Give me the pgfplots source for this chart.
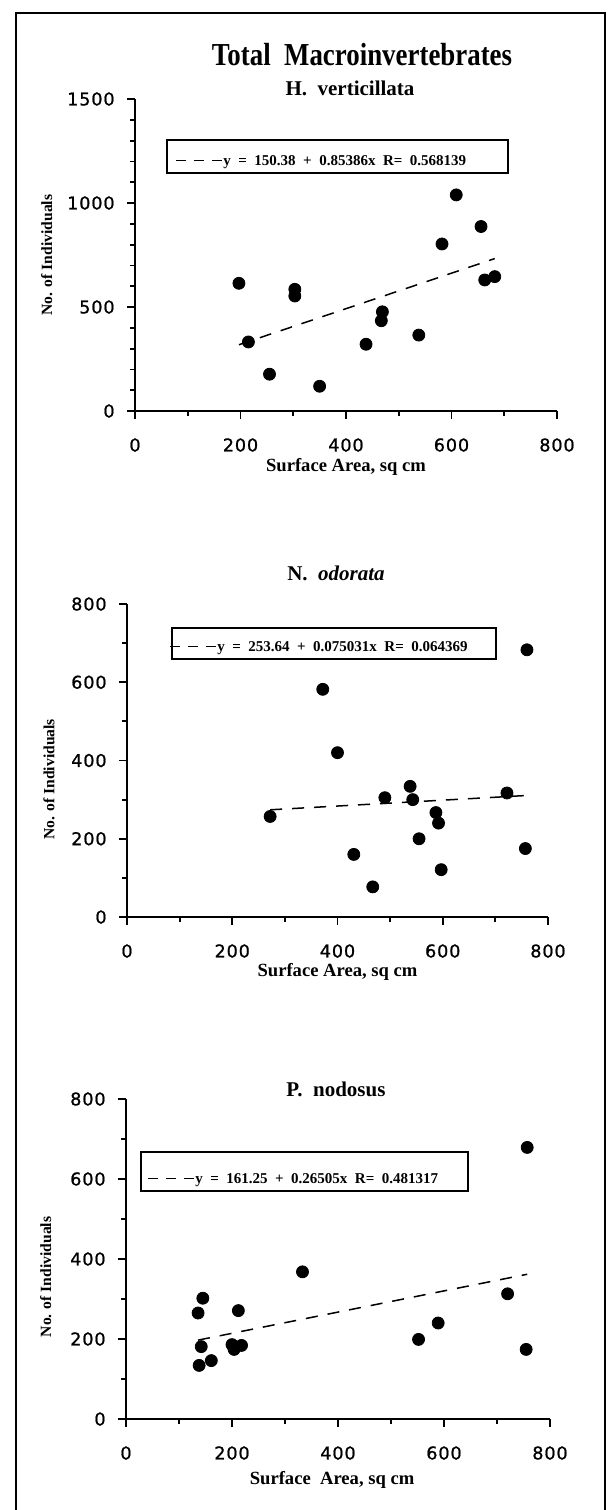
\documentclass[border=0pt]{standalone}
\usepackage{fontspec}
\usepackage{pgfplots}
\pgfplotsset{compat=1.18}
\setmainfont{Liberation Serif}
\newfontfamily\cond{Liberation Serif}[FakeStretch=0.84]
\newfontfamily\tickfont{DejaVu Sans}[LetterSpace=5, FakeBold=1]

% dashed sample drawn in the legend text
\newcommand\dashsample{\rule[2.3pt]{5pt}{0.75pt}\hspace{4pt}\rule[2.3pt]{5pt}{0.75pt}\hspace{4pt}\rule[2.3pt]{5pt}{0.75pt}\hspace{0.8pt}}

\pgfplotsset{
  panel/.style={
    scale only axis,
    anchor=south west,
    axis lines*=left,
    axis line style={line width=1.1pt},
    clip=false,
    xmin=0, xmax=800,
    xtick={0,200,...,800}, minor x tick num=1,
    tick align=outside,
    major tick length=4pt, minor tick length=2.5pt,
    every tick/.style={black, line width=0.9pt},
    ticklabel style={font=\tickfont\fontsize{8.8}{10}\selectfont},
    /pgf/number format/assume math mode=true,
    /pgf/number format/1000 sep={},
    xticklabel style={anchor=center, yshift=-13pt},
    yticklabel style={anchor=east, inner sep=0pt, xshift=-6pt},
    xlabel style={font=\fontsize{9.3}{10}\selectfont\bfseries, anchor=center},
    ylabel style={font=\fontsize{7.8}{9}\selectfont\bfseries, anchor=center},
    legend style={draw=black, line width=0.8pt, fill=white, anchor=north west,
      inner xsep=0pt, inner ysep=0pt, column sep=0pt,
      font=\fontsize{7.5}{8}\selectfont\bfseries},
    legend image code/.code={},
  },
  dots/.style={only marks, mark=*, mark size=3pt, black, forget plot},
  trend/.style={black, line width=0.75pt, dash pattern=on 6pt off 5pt},
}

\begin{document}
\begin{tikzpicture}
\path[use as bounding box] (0,0) rectangle (305.5pt,-755pt);
\draw[line width=1pt] (8pt,-755pt) -- (8pt,-6.5pt) -- (302.5pt,-6.5pt) -- (302.5pt,-755pt);

\node[font=\cond\bfseries\fontsize{16}{18}\selectfont] at (181pt,-27.5pt) {Total\ \ Macroinvertebrates};
\node[font=\bfseries\fontsize{10.5}{12}\selectfont] at (175pt,-44pt) {H.\ \ verticillata};
\node[font=\bfseries\fontsize{10.5}{12}\selectfont] at (168pt,-286.5pt) {N.\ \ \textit{odorata}};
\node[font=\bfseries\fontsize{10.5}{12}\selectfont] at (168pt,-544.5pt) {P.\ \ nodosus};

% H. verticillata
\begin{axis}[panel, at={(67.5pt,-205.5pt)}, width=211pt, height=156pt,
  ymin=0, ymax=1500, ytick={0,500,1000,1500}, minor y tick num=4,
  xlabel={Surface Area, sq cm}, ylabel={No. of Individuals},
  xlabel style={at={(axis description cs:0.5,-0.18)}},
  ylabel style={at={(axis description cs:-0.209,0.5)}},
  legend style={at={(axis description cs:0.0735,0.872)}}]
\addplot[dots] coordinates {
  (197,614) (215,332) (255,177) (303,585) (303,553) (350,119) (438,321) (469,477)
  (467,434) (538,365) (582,803) (609,1039) (656,887) (663,630) (682,646)};
\addplot[trend] coordinates {(197,318.6) (682,732.7)};
\addlegendentry{\makebox[166.5pt][l]{\rule[-6pt]{0pt}{17pt}\hspace{2.5pt}\dashsample y\ \ =\ \ 150.38\ \ +\ \ 0.85386x\ \ R=\ \ 0.568139}}
\end{axis}

% N. odorata
\begin{axis}[panel, at={(63.5pt,-458.5pt)}, width=210.5pt, height=156.5pt,
  ymin=0, ymax=800, ytick={0,200,...,800}, minor y tick num=1,
  xlabel={Surface Area, sq cm}, ylabel={No. of Individuals},
  xlabel style={at={(axis description cs:0.5,-0.176)}},
  ylabel style={at={(axis description cs:-0.185,0.44)}},
  legend style={at={(axis description cs:0.1045,0.9265)}}]
\addplot[dots] coordinates {
  (272,257) (372,582) (400,420) (431,160) (467,77) (490,305) (538,334) (543,300)
  (555,200) (587,267) (592,240) (597,121) (722,317) (757,175) (760,683)};
\addplot[trend] coordinates {(272,274.05) (760,310.66)};
\addlegendentry{\makebox[158pt][l]{\rule[-5.5pt]{0pt}{15.5pt}\hspace{-3pt}\dashsample y\ \ =\ \ 253.64\ \ +\ \ 0.075031x\ \ R=\ \ 0.064369}}
\end{axis}

% P. nodosus
\begin{axis}[panel, at={(63pt,-709.5pt)}, width=212pt, height=160pt,
  ymin=0, ymax=800, ytick={0,200,...,800}, minor y tick num=1,
  xlabel={Surface\ \ Area, sq cm}, ylabel={No. of Individuals},
  xlabel style={at={(axis description cs:0.486,-0.19)}},
  ylabel style={at={(axis description cs:-0.189,0.444)}},
  legend style={at={(axis description cs:0.033,0.8375)}}]
\addplot[dots] coordinates {
  (136,265) (145,302) (142,181) (138,134) (161,146) (200,186) (204,174) (218,184)
  (212,271) (333,368) (552,199) (589,240) (720,313) (755,174) (757,679)};
\addplot[trend] coordinates {(136,197.3) (757,361.9)};
\addlegendentry{\makebox[159.5pt][l]{\rule[-9.5pt]{0pt}{23.5pt}\hspace{1.5pt}\dashsample y\ \ =\ \ 161.25\ \ +\ \ 0.26505x\ \ R=\ \ 0.481317}}
\end{axis}
\end{tikzpicture}
\end{document}
